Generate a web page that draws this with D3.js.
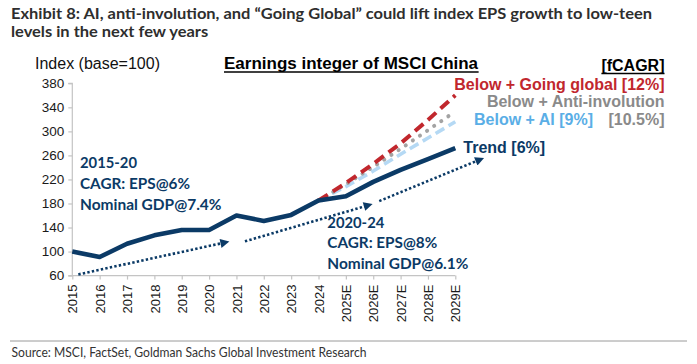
<!DOCTYPE html>
<html><head><meta charset="utf-8">
<script src="https://cdn.jsdelivr.net/npm/d3@7"></script>
<style>
html,body{margin:0;padding:0;background:#fff;}
svg{display:block;}
</style></head>
<body>
<script>
// ---------- data ----------
const categories = ["2015","2016","2017","2018","2019","2020","2021","2022","2023","2024","2025E","2026E","2027E","2028E","2029E"];
const trend      = [100, 91, 113, 127, 136, 136, 160, 151, 161, 185, 192, 216, 236, 254, 272];
const plusAI     = [null,null,null,null,null,null,null,null,null, 185, 208, 234, 262, 289, 316];
const plusAntiInv= [null,null,null,null,null,null,null,null,null, 185, 212, 241, 271, 302, 333];
const plusGlobal = [null,null,null,null,null,null,null,null,null, 185, 214, 246, 280, 319, 360];
const yTicks = [60,100,140,180,220,260,300,340,380];
// trend arrows: [start index, start value, end index, end value]
const arrowStarts = [[0.22, 62], [6.31, 117], [11.22, 184]];
const arrowEnds   = [[5.58, 115], [10.82, 177], [14.9, 253]];

const W = 697, H = 364;
const NAVY = "#0b3a66", RED = "#c1272d", GREY = "#a3a3a3", GREYTXT = "#8a8a8a", LBLUE = "#b5d9f4", BLUETXT = "#5aaee6";

const svg = d3.select("body").append("svg").attr("width", W).attr("height", H);

const x = d3.scalePoint().domain(categories).range([72.3, 455.3]);
const xi = d3.scaleLinear().domain([0, categories.length - 1]).range([72.3, 455.3]);
const y = d3.scaleLinear().domain([60, 380]).range([275.6, 83.3]);

function fit(sel, target){
  const n = sel.node().getComputedTextLength();
  sel.attr("textLength", target).attr("lengthAdjust", "spacingAndGlyphs");
  return target / n;
}
function squeeze(sel, ratio){
  const n = sel.node().getComputedTextLength();
  sel.attr("textLength", n * ratio).attr("lengthAdjust", "spacingAndGlyphs");
}

// ---------- heading ----------
const HF = "Lato, 'Open Sans', sans-serif";
const h1 = svg.append("text").attr("x", 11).attr("y", 13).attr("dominant-baseline","central")
  .style("font-family", HF).style("font-weight", 700).style("font-size","15.5px").attr("fill","#2e2e2e")
  .text("Exhibit 8: AI, anti-involution, and \u201CGoing Global\u201D could lift index EPS growth to low-teen");
const r = fit(h1, 641);
const h2 = svg.append("text").attr("x", 11).attr("y", 30.7).attr("dominant-baseline","central")
  .style("font-family", HF).style("font-weight", 700).style("font-size","15.5px").attr("fill","#2e2e2e")
  .text("levels in the next few years");
squeeze(h2, r);

// ---------- axes ----------
const AF = "'Liberation Sans', Arial, sans-serif";
const yAxis = svg.append("g").attr("transform", `translate(${xi(0)},0)`)
  .call(d3.axisLeft(y).tickValues(yTicks).tickSize(4).tickPadding(4));
yAxis.selectAll("path,line").attr("stroke", "#c4c4c4").attr("stroke-width", 1.2);
yAxis.select(".domain").attr("d", `M-4,${y(380)}H0V${y(60)}H-4`);
yAxis.selectAll("text").style("font-family", AF).style("font-size", "13.5px").attr("fill", "#1a1a1a");

const xAxis = svg.append("g").attr("transform", `translate(0,${y(60)})`)
  .call(d3.axisBottom(x).tickSize(4).tickPadding(4));
xAxis.selectAll("path,line").attr("stroke", "#c4c4c4").attr("stroke-width", 1.2);
xAxis.select(".domain").attr("d", `M${xi(0)},0H${xi(14)}`);
xAxis.selectAll("text").style("font-family", AF).style("font-size", "13px").attr("fill", "#1a1a1a")
  .attr("transform", "rotate(-90)").attr("text-anchor", "end")
  .attr("x", -9).attr("y", 0).attr("dy", "0.36em");

// ---------- arrows ----------
const defs = svg.append("defs");
defs.append("marker").attr("id","ah").attr("viewBox","0 0 10 10").attr("refX",5).attr("refY",5)
  .attr("markerWidth",10).attr("markerHeight",9).attr("markerUnits","userSpaceOnUse").attr("orient","auto")
  .append("path").attr("d","M0,0L10,5L0,10Z").attr("fill",NAVY);
svg.append("g").selectAll("line").data(arrowStarts).join("line")
  .attr("x1", d => xi(d[0])).attr("y1", d => y(d[1]))
  .attr("x2", (d,i) => xi(arrowEnds[i][0])).attr("y2", (d,i) => y(arrowEnds[i][1]))
  .attr("stroke", NAVY).attr("stroke-width", 2.6).attr("stroke-dasharray", "2.4,2.2")
  .attr("marker-end", "url(#ah)");

// ---------- lines ----------
const line = d3.line().defined(d => d.v != null).x(d => x(d.c)).y(d => y(d.v));
const pts = arr => categories.map((c,i) => ({c, v: arr[i]}));
svg.append("path").datum(pts(plusAI)).attr("d", line).attr("fill","none")
  .attr("stroke", LBLUE).attr("stroke-width", 3.6).attr("stroke-dasharray","10,5");
svg.append("path").datum(pts(plusAntiInv)).attr("d", line).attr("fill","none")
  .attr("stroke", GREY).attr("stroke-width", 4).attr("stroke-linecap","round").attr("stroke-dasharray","0.1,8.5");
svg.append("path").datum(pts(plusGlobal)).attr("d", line).attr("fill","none")
  .attr("stroke", RED).attr("stroke-width", 4).attr("stroke-dasharray","11,6");
svg.append("path").datum(pts(trend)).attr("d", line).attr("fill","none")
  .attr("stroke", NAVY).attr("stroke-width", 4.6).attr("stroke-linejoin","round");

// ---------- chart texts ----------
function txt(t, xx, yy, opts){
  const s = svg.append("text").attr("x", xx).attr("y", yy).attr("dominant-baseline","central")
    .style("font-family", opts.font || AF).style("font-weight", opts.weight || 700)
    .style("font-size", opts.size || "16px").attr("fill", opts.fill || "#000")
    .attr("text-anchor", opts.anchor || "start").text(t);
  if (opts.width) fit(s, opts.width);
  return s;
}
txt("Index (base=100)", 35, 63, {weight: 400, size: "16px", fill: "#111"});
const title = txt("Earnings integer of MSCI China", 224, 63.3, {size: "17px"});
const tb = title.node().getBBox();
svg.append("line").attr("x1", tb.x).attr("x2", tb.x + tb.width).attr("y1", 72).attr("y2", 72).attr("stroke","#000").attr("stroke-width",1.3);

const fc = txt("[fCAGR]", 664.5, 65, {anchor: "end"});
const fb = fc.node().getBBox();
svg.append("line").attr("x1", fb.x).attr("x2", fb.x + fb.width).attr("y1", 73.5).attr("y2", 73.5).attr("stroke","#000").attr("stroke-width",1.3);
txt("Below + Going global [12%]", 664.5, 84.3, {anchor: "end", fill: RED});
txt("Below + Anti-involution", 664.5, 101.7, {anchor: "end", fill: GREYTXT});
txt("Below + AI [9%]", 474, 119, {fill: BLUETXT});
txt("[10.5%]", 664.5, 119, {anchor: "end", fill: GREYTXT});
txt("Trend [6%]", 463.3, 147.7, {fill: NAVY});

const NF = "Lato, 'Open Sans', sans-serif";
txt("2015-20", 80, 161.7, {font: NF, size: "15.5px", fill: NAVY, width: 57});
txt("CAGR: EPS@6%", 80, 183, {font: NF, size: "15.5px", fill: NAVY, width: 110});
txt("Nominal GDP@7.4%", 80, 204.3, {font: NF, size: "15.5px", fill: NAVY, width: 141.5});
txt("2020-24", 327.3, 222.3, {font: NF, size: "15.5px", fill: NAVY, width: 57});
txt("CAGR: EPS@8%", 327.3, 242.3, {font: NF, size: "15.5px", fill: NAVY, width: 110});
txt("Nominal GDP@6.1%", 327.3, 263.3, {font: NF, size: "15.5px", fill: NAVY, width: 141});

// ---------- footer ----------
svg.append("line").attr("x1", 10).attr("x2", 687).attr("y1", 341).attr("y2", 341).attr("stroke", "#9a9a9a").attr("stroke-width", 1);
txt("Source: MSCI, FactSet, Goldman Sachs Global Investment Research", 11.5, 352.7,
  {font: "Lato, 'Open Sans', sans-serif", weight: 400, size: "12.5px", fill: "#333", width: 355});
</script>
</body></html>
